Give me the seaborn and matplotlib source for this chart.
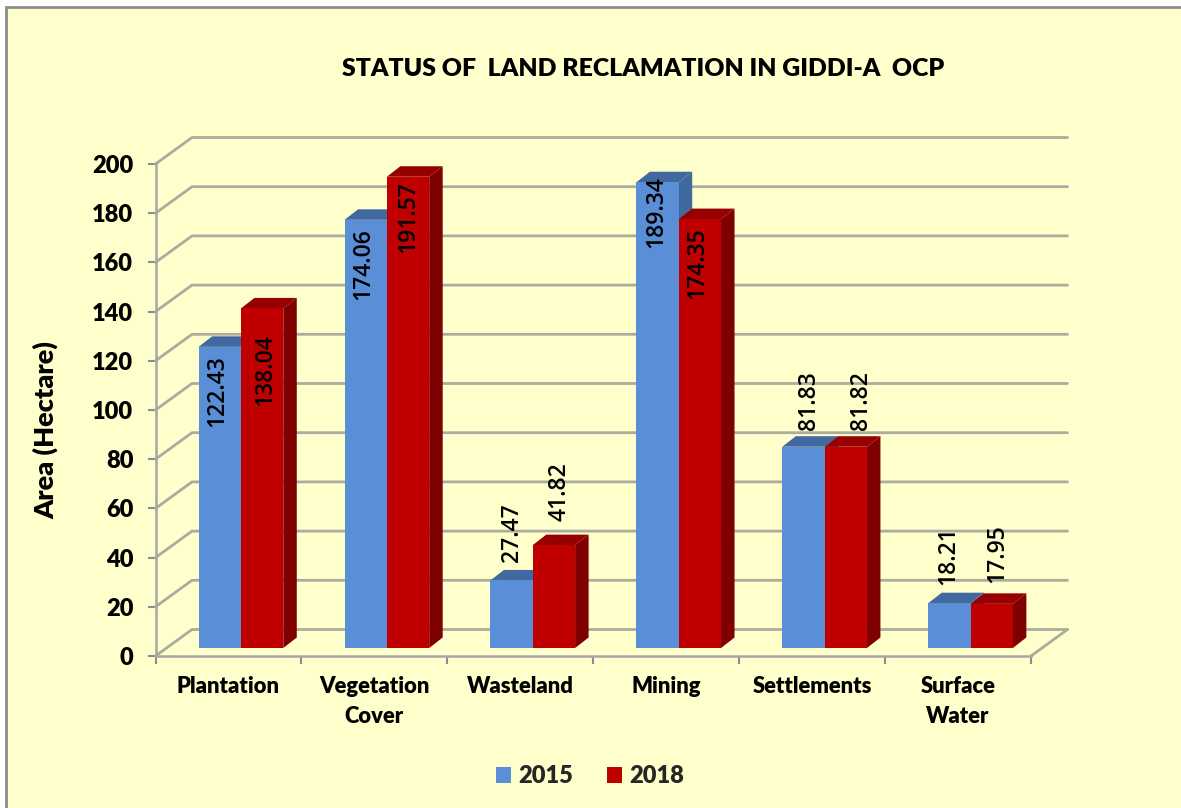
import pandas as pd
import matplotlib
matplotlib.use("Agg")
import matplotlib.pyplot as plt
from matplotlib.patches import Polygon, Rectangle
import seaborn as sns

categories = ["Plantation", "Vegetation\nCover", "Wasteland", "Mining", "Settlements", "Surface\nWater"]
values_2015 = [122.43, 174.06, 27.47, 189.34, 81.83, 18.21]
values_2018 = [138.04, 191.57, 41.82, 174.35, 81.82, 17.95]
y_ticks = list(range(0, 201, 20))

df = pd.DataFrame({
    "category": categories * 2,
    "year": ["2015"] * 6 + ["2018"] * 6,
    "area": values_2015 + values_2018,
})

W, H = 1181, 808
sns.set_theme(style="white")
plt.rcParams["font.family"] = ["Lato", "DejaVu Sans"]
heavy = 800

fig = plt.figure(figsize=(W / 100, H / 100), dpi=100, facecolor="white")
fig.add_artist(Rectangle((6 / W, -0.02), 1.1, 1 - 7 / H + 0.02, transform=fig.transFigure,
                         facecolor="#FFFFCC", edgecolor="#8C8C8C", linewidth=2, zorder=-1))

# axes box = front plane of the fake 3D chart
x_left, x_right, y_zero, y_top = 155.5, 1031, 656, 164
ax = fig.add_axes([x_left / W, 1 - y_zero / H, (x_right - x_left) / W, (y_zero - y_top) / H])
ax.patch.set_alpha(0)

px_x = 6 / (x_right - x_left)  # data units per pixel
px_y = 200 / (y_zero - y_top)

sns.barplot(data=df, x="category", y="area", hue="year", order=categories,
            palette={"2015": "#5A8ED6", "2018": "#C00000"}, saturation=1,
            width=0.58, gap=0, dodge=True, ax=ax, linewidth=0, zorder=3)
ax.set_xlim(-0.5, 5.5)
ax.set_ylim(0, 200)

# back wall and floor
grid_col = "#ABABA0"
wall_dx, wall_dy = 36.5 * px_x, 26.5 * px_y
for v in y_ticks:
    ax.plot([-0.5, -0.5 + wall_dx, 5.5 + wall_dx], [v, v + wall_dy, v + wall_dy],
            color=grid_col, lw=2, clip_on=False, zorder=1)
ax.plot([5.5, 5.5 + wall_dx], [0, wall_dy], color=grid_col, lw=2, clip_on=False, zorder=1)

# move bars into the floor and add the side and top faces
shift_x, base = 12.5 * px_x, 8 * px_y
depth_x, depth_y = 13.5 * px_x, 10.5 * px_y
face_cols = [("#3F6AA0", "#41699F"), ("#7F0000", "#960000")]
# label nudges in pixels (dx, dy from bar top)
label_nudge = [
    [(-3, -44), (-2, -44), (0, 48), (-1, -30), (6, 46), (-1, 48)],
    [(3, -62), (0, -40), (6, 53), (-3, -44), (15, 46), (6, 50)],
]
for s, (cont, nudges) in enumerate(zip(ax.containers, label_nudge)):
    side_col, top_col = face_cols[s]
    for bar, (ndx, ndy), val in zip(cont, nudges, cont.datavalues):
        bar.set_x(bar.get_x() + shift_x)
        bar.set_y(base)
        x0, x1 = bar.get_x(), bar.get_x() + bar.get_width()
        top = base + bar.get_height()
        ax.add_patch(Polygon([(x1, base), (x1 + depth_x, base + depth_y),
                              (x1 + depth_x, top + depth_y), (x1, top)],
                             facecolor=side_col, edgecolor="none", zorder=2 + s * 0.5))
        ax.add_patch(Polygon([(x0, top), (x0 + depth_x, top + depth_y),
                              (x1 + depth_x, top + depth_y), (x1, top)],
                             facecolor=top_col, edgecolor="none", zorder=2 + s * 0.5))
        ax.annotate(f"{val:.2f}", ((x0 + x1) / 2, top), xytext=(ndx, ndy),
                    textcoords="offset pixels", rotation=90, ha="center", va="center",
                    fontsize=16.5, family="Open Sans", fontweight="semibold", color="black",
                    zorder=6, annotation_clip=False)

# axes
for name in ["top", "right"]:
    ax.spines[name].set_visible(False)
for name in ["left", "bottom"]:
    ax.spines[name].set_color("#A6A6A6")
    ax.spines[name].set_linewidth(1.8)
    ax.spines[name].set_zorder(2)
ax.set_yticks(y_ticks)
ax.set_yticklabels([str(t) for t in y_ticks], fontsize=17, fontweight=heavy, color="black")
ax.tick_params(axis="y", length=6, width=1.5, color="#8C8C8C", left=True, pad=10)
ax.set_xticks([i - 0.5 for i in range(7)])
ax.set_xticklabels([])
ax.set_xticks(range(6), categories, minor=True, fontsize=15.8, fontweight=heavy, color="black",
              linespacing=1.5, va="top")
ax.tick_params(axis="x", which="major", length=6, width=1.5, color="#8C8C8C", bottom=True)
ax.tick_params(axis="x", which="minor", length=0, pad=14.5)
ax.set_xlabel("")
ax.set_ylabel("")

fig.text(46 / W, 1 - 430 / H, "Area (Hectare)", rotation=90, ha="center", va="center",
         fontsize=19.5, fontweight=heavy, color="black")
fig.text(643 / W, 1 - 69 / H, "STATUS OF  LAND RECLAMATION IN GIDDI-A  OCP", ha="center", va="center",
         fontsize=17.9, fontweight=heavy, color="black")

handles, labels = ax.get_legend_handles_labels()
leg = ax.legend(handles, labels, loc="center", bbox_to_anchor=(590 / W, 1 - 776 / H),
                bbox_transform=fig.transFigure, ncol=2, frameon=False, handlelength=0.65,
                handleheight=0.65, handletextpad=0.3, columnspacing=1.45,
                prop={"size": 17, "weight": heavy})

fig.savefig("out.png", dpi=100)
